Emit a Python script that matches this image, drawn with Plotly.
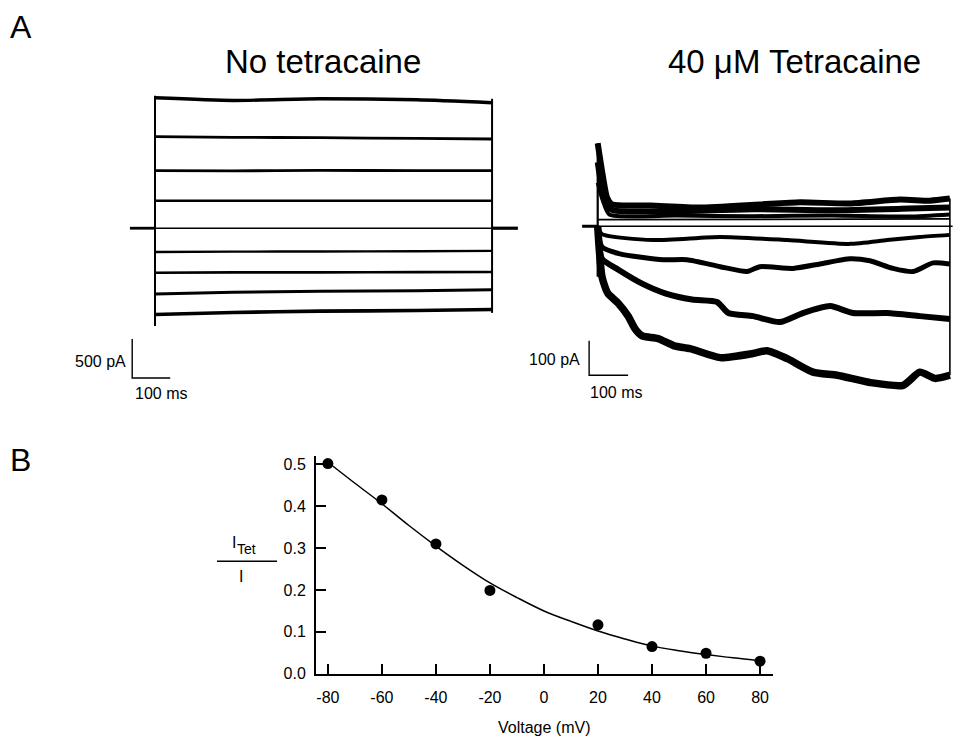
import plotly.graph_objects as go

W, H = 954, 745
FONT = "Liberation Sans, Arial, Helvetica, sans-serif"

# ---------------- Panel A, left: No tetracaine (ms, pA) ----------------
left_t = [0, 205, 434, 689, 887]
left_traces = [
    [1671, 1637, 1658, 1646, 1608],
    [1173, 1165, 1160, 1150, 1143],
    [738, 735, 740, 738, 738],
    [351, 351, 351, 351, 351],
    [-304, -300, -298, -295, -291],
    [-570, -566, -566, -563, -561],
    [-844, -820, -808, -800, -789],
    [-1105, -1080, -1063, -1055, -1042],
]
left_widths = [3.4, 2.8, 2.8, 2.5, 2.4, 2.6, 3.0, 3.6]
left_pre_t = [-66, 0]
left_post_t = [887, 955]
left_on_span = [1696, -1253]
left_off_span = [1658, -1085]
left_bar_t = [-60, -60, 40]
left_bar_i = [-1420, -1920, -1920]

# ---------------- Panel A, right: 40 uM tetracaine (ms, pA) ----------------
r5_t = [0, 11, 26, 52, 78, 96, 114, 155, 196, 237, 314, 398, 434, 486, 552, 614, 698, 783, 826, 865, 903]
r5_i = [0, -146, -194, -222, -260, -297, -317, -325, -346, -354, -380, -368, -360, -383, -422, -431, -452, -460, -422, -440, -431]
r4_t = [0, 11, 52, 114, 173, 242, 306, 335, 398, 467, 526, 596, 655, 742, 826, 903]
r4_i = [0, -94, -125, -166, -194, -212, -219, -251, -260, -277, -251, -231, -251, -251, -260, -268]
r3_t = [0, 11, 57, 168, 229, 314, 383, 416, 501, 570, 647, 698, 757, 809, 860, 903]
r3_i = [0, -60, -80, -97, -97, -117, -131, -117, -122, -109, -94, -100, -122, -131, -106, -109]
r2_t = [0, 11, 142, 314, 486, 647, 742, 826, 903]
r2_i = [0, -23, -40, -31, -40, -51, -40, -31, -25]
u1_t = [0, 14, 24, 37, 135, 262, 416, 519, 647, 775, 852, 903]
u1_i = [240, 140, 83, 63, 60, 54, 63, 69, 66, 77, 74, 80]
u2_t = [0, 10, 25, 40, 200, 400, 600, 800, 903]
u2_i = [185, 117, 58, 46, 43, 49, 46, 51, 54]
u3_t = [0, 12, 30, 200, 400, 600, 800, 903]
u3_i = [126, 78, 34, 31, 29, 31, 28, 34]
u4_t = [0, 903]
u4_i = [19, 21]
right_pre_t = [-40, 0]
right_post_t = [903, 910]
right_on_span = [240, -146]
right_off_span = [80, -431]
right_bar_t = [-22, -22, 78]
right_bar_i = [-331, -431, -431]

# ---------------- Panel B ----------------
voltage = [-80, -60, -40, -20, 20, 40, 60, 80]
ratio = [0.502, 0.415, 0.310, 0.199, 0.117, 0.065, 0.049, 0.030]
fit_v = [-80, -70, -60, -50, -40, -30, -20, -10, 0, 10, 20, 30, 40, 50, 60, 70, 80]
fit_r = [0.505, 0.455, 0.406, 0.354, 0.305, 0.259, 0.217, 0.182, 0.150, 0.125, 0.102, 0.083, 0.066, 0.055, 0.046, 0.038, 0.031]
x_ticks = [-80, -60, -40, -20, 0, 20, 40, 60, 80]
x_ticktext = ["-80", "-60", "-40", "-20", "0", "20", "40", "60", "80"]
y_ticks = [0.0, 0.1, 0.2, 0.3, 0.4, 0.5]
y_ticktext = ["0.0", "0.1", "0.2", "0.3", "0.4", "0.5"]


def px(x):
    return x / W


def py(y):
    return 1 - y / H


fig = go.Figure()
K = "black"


def line(x, y, w, xa="x", ya="y", shape="linear"):
    fig.add_trace(go.Scatter(x=x, y=y, mode="lines", xaxis=xa, yaxis=ya,
                             line=dict(color=K, width=w, shape=shape, smoothing=0.6),
                             hoverinfo="skip", showlegend=False))


# left panel
line(left_pre_t, [0, 0], 2.8)
line([0, left_t[-1]], [0, 0], 1.4)
line(left_post_t, [0, 0], 3.2)
for tr, w in zip(left_traces, left_widths):
    line(left_t, tr, w, shape="spline")
line([0, 0], left_on_span, 2)
line([left_t[-1], left_t[-1]], left_off_span, 2)
line(left_bar_t, left_bar_i, 1.4)

# right panel
line(right_pre_t, [0, 0], 3.2, "x2", "y2")
line([0, right_post_t[-1]], [0, 0], 1.5, "x2", "y2")
for tt, ii, w in [(u4_t, u4_i, 1.8), (u3_t, u3_i, 4), (u2_t, u2_i, 6), (u1_t, u1_i, 6),
                  (r2_t, r2_i, 4), (r3_t, r3_i, 5), (r4_t, r4_i, 6), (r5_t, r5_i, 7.5)]:
    line(tt, ii, w, "x2", "y2", shape="spline")
line([0, 0], right_on_span, 2.2, "x2", "y2")
line([right_post_t[0], right_post_t[0]], right_off_span, 1.6, "x2", "y2")
line(right_bar_t, right_bar_i, 1.4, "x2", "y2")

# panel B
fig.add_trace(go.Scatter(x=fit_v, y=fit_r, mode="lines", xaxis="x3", yaxis="y3",
                         line=dict(color=K, width=1.5, shape="spline"),
                         hoverinfo="skip", showlegend=False))
fig.add_trace(go.Scatter(x=voltage, y=ratio, mode="markers", xaxis="x3", yaxis="y3",
                         marker=dict(color=K, size=11), hoverinfo="skip",
                         showlegend=False, cliponaxis=False))

hidden = dict(visible=False, showgrid=False, zeroline=False)
fig.update_layout(
    width=W, height=H, margin=dict(l=0, r=0, t=0, b=0),
    paper_bgcolor="white", plot_bgcolor="white", showlegend=False,
    font=dict(family=FONT, color=K, size=16),
    xaxis=dict(domain=[px(117), px(535)], range=[-100, 1000], anchor="y", **hidden),
    yaxis=dict(domain=[py(396.9), py(73)], range=[-2100, 2000], anchor="x", **hidden),
    xaxis2=dict(domain=[px(574.3), px(953.4)], range=[-60, 912], anchor="y2", **hidden),
    yaxis2=dict(domain=[py(418), py(138)], range=[-540, 260], anchor="x2", **hidden),
    xaxis3=dict(domain=[px(316), px(773)], range=[-84.4, 84.8], anchor="y3",
                showline=True, linecolor=K, linewidth=2, showgrid=False, zeroline=False,
                ticks="inside", ticklen=10, tickwidth=2, tickcolor=K,
                tickvals=x_ticks, ticktext=x_ticktext, ticklabelstandoff=8,
                tickfont=dict(size=16, family=FONT, color=K)),
    yaxis3=dict(domain=[py(682), py(462)], range=[0, 0.519], anchor="x3",
                showline=True, linecolor=K, linewidth=2, showgrid=False, zeroline=False,
                ticks="inside", ticklen=10, tickwidth=2, tickcolor=K,
                tickvals=y_ticks, ticktext=y_ticktext, ticklabelstandoff=5,
                tickfont=dict(size=16, family=FONT, color=K)),
)


def text(s, x, y, size, xanchor="center"):
    fig.add_annotation(text=s, x=px(x), y=py(y), xref="paper", yref="paper",
                       showarrow=False, xanchor=xanchor, yanchor="middle",
                       font=dict(size=size, family=FONT, color=K))


text("A", 21, 27, 32)
text("B", 20, 466, 32)
text("No tetracaine", 323, 62, 33)
text("40 \u03bcM Tetracaine", 794, 62, 33)
text("500 pA", 128, 366, 16, "right")
text("100 ms", 133, 398, 16, "left")
text("100 pA", 582, 364, 16, "right")
text("100 ms", 588, 397, 16, "left")
text("Voltage (mV)", 544, 736, 16)
text("I", 238, 549, 16, "right")
text("Tet", 235, 556, 14, "left")
text("I", 241, 584, 16)
fig.add_shape(type="line", xref="paper", yref="paper",
              x0=px(217), x1=px(277), y0=py(568), y1=py(568),
              line=dict(color=K, width=1.5))

fig.write_html("out.html", config={"displayModeBar": False},
               post_script="document.body.style.margin='0';")
